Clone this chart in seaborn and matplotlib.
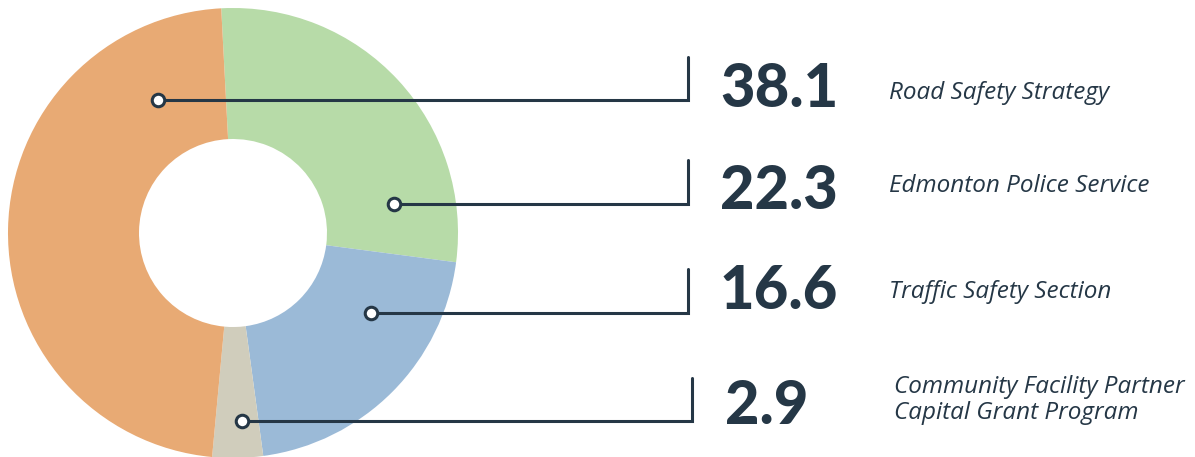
import matplotlib
matplotlib.use("Agg")
import matplotlib.pyplot as plt
import seaborn as sns

# ---- data ----
categories = ["Road Safety Strategy", "Edmonton Police Service",
              "Traffic Safety Section", "Community Facility Partner\nCapital Grant Program"]
values = [38.1, 22.3, 16.6, 2.9]
value_labels = ["38.1", "22.3", "16.6", "2.9"]
colors = ["#E8AA74", "#B7DBA8", "#9BBAD7", "#D0CDBC"]

sns.set_theme(style="white")
plt.rcParams['font.family'] = ['Open Sans', 'DejaVu Sans']

W, H = 1195, 457
fig = plt.figure(figsize=(W / 100, H / 100), dpi=100)
ax = fig.add_axes([0, 0, 1, 1])
ax.set_xlim(0, W)
ax.set_ylim(H, 0)
ax.set_aspect('equal')
ax.axis('off')

# pie order clockwise from top: green, blue, grey, orange
order = [1, 2, 3, 0]
cx, cy, R, r_in = 233, 233, 225, 94
# with inverted y axis, counterclock=True appears clockwise
wedges, _ = ax.pie([values[i] for i in order], colors=[colors[i] for i in order],
                   startangle=-93, counterclock=True, radius=R, center=(cx, cy),
                   wedgeprops=dict(width=R - r_in, linewidth=0), frame=True)
ax.set_xlim(0, W)
ax.set_ylim(H, 0)
ax.axis('off')

dark = "#253746"
# leader layout (dot x, line y, elbow x, top y)
dots = [(158, 100, 688, 57), (394, 204, 688, 160), (371, 313, 688, 269), (242, 421, 692, 378)]
num_pos = [(720, 89), (720, 191), (720, 291), (725, 406)]
lab_pos = [(889, 93), (889, 186), (889, 292), (894, 400)]

for (dx, ly, ex, ty), (nx, ny), (tx, tyl), vl, cat in zip(dots, num_pos, lab_pos, value_labels, categories):
    ax.plot([dx, ex, ex], [ly, ly, ty], color=dark, lw=2.2, solid_joinstyle='miter', zorder=3)
    ax.plot([dx], [ly], marker='o', ms=9, mfc='white', mec=dark, mew=2.2, zorder=4)
    ax.text(nx, ny, vl, fontsize=43, fontweight='black', color=dark,
            va='center', ha='left', family=['Lato', 'DejaVu Sans'])
    ax.text(tx, tyl, cat, fontsize=17.5, style='italic', color=dark,
            va='center', ha='left', linespacing=1.12)

fig.savefig("out.png", dpi=100, facecolor='white')
